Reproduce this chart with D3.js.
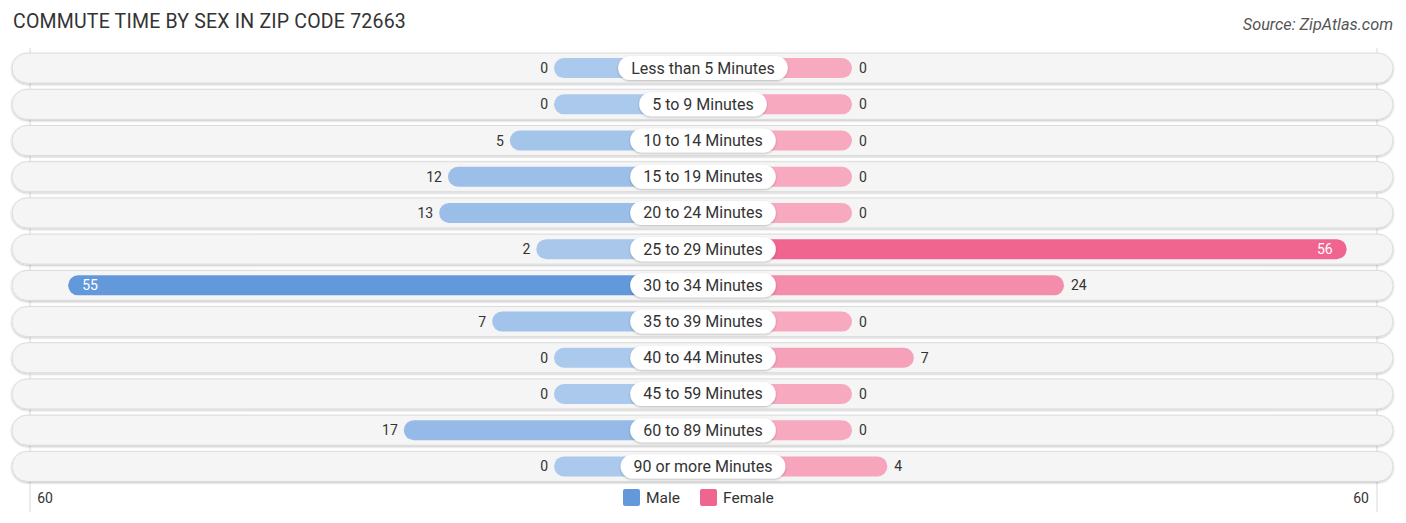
<!DOCTYPE html>
<html>
<head>
<meta charset="utf-8">
<script src="https://cdn.jsdelivr.net/npm/d3@7"></script>
<style>
    body { margin: 0; background: #fff; }
    text { font-family: Roboto, "Open Sans", sans-serif; }
</style>
</head>
<body>
<svg id="chart" width="1406" height="523"></svg>
<script>
let categories = ['Less than 5 Minutes', '5 to 9 Minutes', '10 to 14 Minutes', '15 to 19 Minutes',
    '20 to 24 Minutes', '25 to 29 Minutes', '30 to 34 Minutes', '35 to 39 Minutes',
    '40 to 44 Minutes', '45 to 59 Minutes', '60 to 89 Minutes', '90 or more Minutes']
let maleValues = [0, 0, 5, 12, 13, 2, 55, 7, 0, 0, 17, 0]
let femaleValues = [0, 0, 0, 0, 0, 56, 24, 0, 7, 0, 0, 4]
let axisMax = 60
let axisLabels = ['60', '60']

let svg = d3.select('#chart')
let cx = 703

// shadow for the pills
let defs = svg.append('defs')
let f = defs.append('filter').attr('id', 'sh').attr('x', '-5%').attr('y', '-30%').attr('width', '110%').attr('height', '160%')
f.append('feDropShadow').attr('dx', 0).attr('dy', 1).attr('stdDeviation', 1).attr('flood-color', '#000').attr('flood-opacity', 0.25)

// title + source
svg.append('text').attr('x', 13).attr('y', 28)
    .style('font-size', '19.5px').style('fill', '#333').style('letter-spacing', '0.2px')
    .text('COMMUTE TIME BY SEX IN ZIP CODE 72663')
svg.append('text').attr('x', 1393).attr('y', 30).attr('text-anchor', 'end')
    .style('font-size', '16.3px').style('font-style', 'italic').style('fill', '#555')
    .text('Source: ZipAtlas.com')

let y = d3.scaleBand()
    .domain(categories)
    .range([50, 484.5])
    .paddingInner(0)

// bar length from centre: minimum stub + value
let x = d3.scaleLinear().domain([0, axisMax]).range([149, 679])

let maleColor = d3.scaleLinear().domain([0, 55]).range(['#abc9ec', '#6399db'])
let femaleColor = d3.scaleLinear().domain([0, 56]).range(['#f7a9c0', '#f06590'])

// grid lines
;[30, 1377].forEach(gx => {
    svg.append('line').attr('x1', gx).attr('x2', gx).attr('y1', 48).attr('y2', 512)
        .style('stroke', '#d8d8d8').style('stroke-width', 1)
})

let rows = svg.selectAll('g.row')
    .data(categories)
    .enter()
    .append('g')
    .attr('class', 'row')
    .attr('transform', d => 'translate(0,' + (y(d) + y.bandwidth() / 2) + ')')

rows.append('rect')
    .attr('x', 12).attr('y', -15).attr('width', 1381).attr('height', 30)
    .attr('rx', 15)
    .style('fill', '#f5f5f5').style('stroke', '#dcdcdc').style('stroke-width', 1)
    .attr('filter', 'url(#sh)')

// male bars
rows.append('rect')
    .attr('x', (d, i) => cx - x(maleValues[i]))
    .attr('y', -10).attr('height', 20)
    .attr('width', (d, i) => x(maleValues[i]))
    .attr('rx', 10)
    .style('fill', (d, i) => maleColor(maleValues[i]))

// female bars
rows.append('rect')
    .attr('x', cx)
    .attr('y', -10).attr('height', 20)
    .attr('width', (d, i) => x(femaleValues[i]))
    .attr('rx', 10)
    .style('fill', (d, i) => femaleColor(femaleValues[i]))

// category label pills
rows.each(function (d) {
    let g = d3.select(this)
    let t = g.append('text').attr('x', cx).attr('y', 5.5).attr('text-anchor', 'middle')
        .style('font-size', '16px').style('fill', '#333').text(d)
    let w = t.node().getComputedTextLength() + 26
    g.insert('rect', 'text')
        .attr('x', cx - w / 2).attr('y', -12).attr('width', w).attr('height', 24)
        .attr('rx', 12).style('fill', '#fff')
        .attr('filter', 'url(#sh)')
})

// value labels
rows.append('text')
    .attr('x', (d, i) => maleValues[i] > 40 ? cx - x(maleValues[i]) + 14 : cx - x(maleValues[i]) - 6)
    .attr('y', 5)
    .attr('text-anchor', (d, i) => maleValues[i] > 40 ? 'start' : 'end')
    .style('font-size', '14px')
    .style('fill', (d, i) => maleValues[i] > 40 ? '#fff' : '#333')
    .text((d, i) => maleValues[i])

rows.append('text')
    .attr('x', (d, i) => femaleValues[i] > 40 ? cx + x(femaleValues[i]) - 14 : cx + x(femaleValues[i]) + 7)
    .attr('y', 5)
    .attr('text-anchor', (d, i) => femaleValues[i] > 40 ? 'end' : 'start')
    .style('font-size', '14px')
    .style('fill', (d, i) => femaleValues[i] > 40 ? '#fff' : '#333')
    .text((d, i) => femaleValues[i])

// axis ends
svg.append('text').attr('x', 45).attr('y', 503).attr('text-anchor', 'middle')
    .style('font-size', '14px').style('fill', '#333').text(axisLabels[0])
svg.append('text').attr('x', 1361).attr('y', 503).attr('text-anchor', 'middle')
    .style('font-size', '14px').style('fill', '#333').text(axisLabels[1])

// legend
let legend = [{name: 'Male', color: '#6399db', x: 623}, {name: 'Female', color: '#f06590', x: 700}]
legend.forEach(l => {
    svg.append('rect').attr('x', l.x).attr('y', 489).attr('width', 17).attr('height', 17)
        .attr('rx', 2).style('fill', l.color)
    svg.append('text').attr('x', l.x + 23).attr('y', 503)
        .style('font-size', '15.5px').style('fill', '#333').text(l.name)
})
</script>
</body>
</html>
